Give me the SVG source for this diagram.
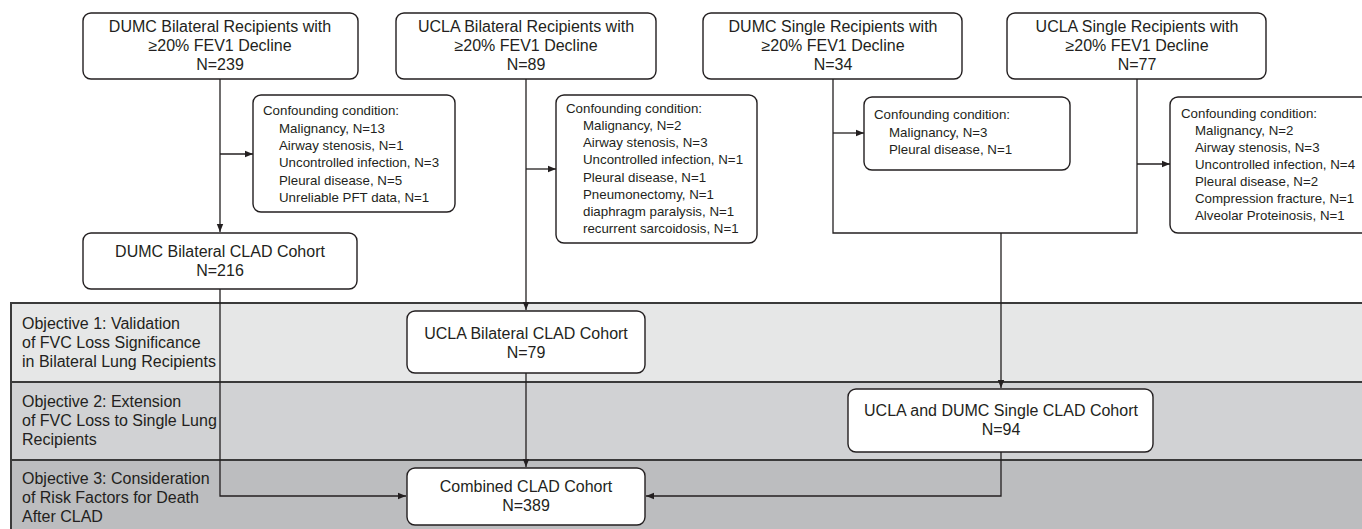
<svg xmlns="http://www.w3.org/2000/svg" width="1362" height="529" viewBox="0 0 1362 529">
<style>
.box{fill:#fff;stroke:#231f20;stroke-width:1.4}
.t{font-family:"Liberation Sans",Arial,sans-serif;font-size:16px;fill:#231f20;text-anchor:middle}
.c{font-family:"Liberation Sans",Arial,sans-serif;font-size:13.3px;fill:#231f20}
.o{font-family:"Liberation Sans",Arial,sans-serif;font-size:16px;fill:#231f20}
.ln{fill:none;stroke:#231f20;stroke-width:1.3}
.band{stroke:none}
.bl{stroke:#3a3a3a;stroke-width:2;fill:none}
</style>
<defs>
<marker id="ah" viewBox="0 0 10 10" refX="10" refY="5" markerWidth="8" markerHeight="8" markerUnits="userSpaceOnUse" orient="auto">
<path d="M0,1 L10,5 L0,9 Z" fill="#231f20"/>
</marker>
</defs>
<rect width="1362" height="529" fill="#fff"/>
<g id="bands">
<rect class="band" x="11" y="303" width="1351" height="79" fill="#e6e7e7"/>
<rect class="band" x="11" y="382" width="1351" height="78" fill="#d1d2d4"/>
<rect class="band" x="11" y="460" width="1351" height="69" fill="#bcbdbf"/>
<path class="bl" d="M1362,303 H11 V529 M11,382 H1362 M11,460 H1362"/>
<text class="o" x="22" y="329">Objective 1: Validation</text>
<text class="o" x="22" y="348">of FVC Loss Significance</text>
<text class="o" x="22" y="367">in Bilateral Lung Recipients</text>
<text class="o" x="22" y="407">Objective 2: Extension</text>
<text class="o" x="22" y="426">of FVC Loss to Single Lung</text>
<text class="o" x="22" y="445">Recipients</text>
<text class="o" x="22" y="484">Objective 3: Consideration</text>
<text class="o" x="22" y="503">of Risk Factors for Death</text>
<text class="o" x="22" y="522">After CLAD</text>
</g>
<g id="connectors">
<path class="ln" d="M220,79 V232" marker-end="url(#ah)"/>
<path class="ln" d="M220,154 H253" marker-end="url(#ah)"/>
<path class="ln" d="M526,79 V310" marker-end="url(#ah)"/>
<path class="ln" d="M526,169 H556" marker-end="url(#ah)"/>
<path class="ln" d="M833,133 H864" marker-end="url(#ah)"/>
<path class="ln" d="M1137,164 H1170" marker-end="url(#ah)"/>
<path class="ln" d="M833,79 V233 H1137 V79"/>
<path class="ln" d="M1001,233 V388" marker-end="url(#ah)"/>
<path class="ln" d="M220,289 V496 H406" marker-end="url(#ah)"/>
<path class="ln" d="M526,373 V467" marker-end="url(#ah)"/>
<path class="ln" d="M1001,452 V496 H646" marker-end="url(#ah)"/>
</g>
<g id="dumc-bilateral">
<rect class="box" x="83" y="13" width="275" height="66" rx="8"/>
<text class="t" x="220" y="32">DUMC Bilateral Recipients with</text>
<text class="t" x="220" y="51">≥20% FEV1 Decline</text>
<text class="t" x="220" y="70">N=239</text>
</g>
<g id="ucla-bilateral">
<rect class="box" x="396" y="13" width="260" height="66" rx="8"/>
<text class="t" x="526" y="32">UCLA Bilateral Recipients with</text>
<text class="t" x="526" y="51">≥20% FEV1 Decline</text>
<text class="t" x="526" y="70">N=89</text>
</g>
<g id="dumc-single">
<rect class="box" x="703" y="13" width="259" height="66" rx="8"/>
<text class="t" x="833" y="32">DUMC Single Recipients with</text>
<text class="t" x="833" y="51">≥20% FEV1 Decline</text>
<text class="t" x="833" y="70">N=34</text>
</g>
<g id="ucla-single">
<rect class="box" x="1007" y="13" width="259" height="66" rx="8"/>
<text class="t" x="1137" y="32">UCLA Single Recipients with</text>
<text class="t" x="1137" y="51">≥20% FEV1 Decline</text>
<text class="t" x="1137" y="70">N=77</text>
</g>
<g id="confound-1">
<rect class="box" x="253" y="95" width="202" height="117" rx="8"/>
<text class="c" x="263" y="115">Confounding condition:</text>
<text class="c" x="279" y="132.5">Malignancy, N=13</text>
<text class="c" x="279" y="150">Airway stenosis, N=1</text>
<text class="c" x="279" y="167">Uncontrolled infection, N=3</text>
<text class="c" x="279" y="184.5">Pleural disease, N=5</text>
<text class="c" x="279" y="202">Unreliable PFT data, N=1</text>
</g>
<g id="confound-2">
<rect class="box" x="556" y="95" width="201" height="148" rx="8"/>
<text class="c" x="566" y="113">Confounding condition:</text>
<text class="c" x="583" y="130">Malignancy, N=2</text>
<text class="c" x="583" y="147">Airway stenosis, N=3</text>
<text class="c" x="583" y="164">Uncontrolled infection, N=1</text>
<text class="c" x="583" y="181.5">Pleural disease, N=1</text>
<text class="c" x="583" y="199">Pneumonectomy, N=1</text>
<text class="c" x="583" y="216">diaphragm paralysis, N=1</text>
<text class="c" x="583" y="233">recurrent sarcoidosis, N=1</text>
</g>
<g id="confound-3">
<rect class="box" x="864" y="97" width="206" height="73" rx="8"/>
<text class="c" x="874" y="119">Confounding condition:</text>
<text class="c" x="889" y="136.5">Malignancy, N=3</text>
<text class="c" x="889" y="154">Pleural disease, N=1</text>
</g>
<g id="confound-4">
<rect class="box" x="1170" y="97" width="210" height="136" rx="8"/>
<text class="c" x="1181" y="118">Confounding condition:</text>
<text class="c" x="1195" y="135">Malignancy, N=2</text>
<text class="c" x="1195" y="152">Airway stenosis, N=3</text>
<text class="c" x="1195" y="169">Uncontrolled infection, N=4</text>
<text class="c" x="1195" y="186">Pleural disease, N=2</text>
<text class="c" x="1195" y="203">Compression fracture, N=1</text>
<text class="c" x="1195" y="220">Alveolar Proteinosis, N=1</text>
</g>
<g id="dumc-bilateral-clad">
<rect class="box" x="83" y="233" width="274" height="56" rx="8"/>
<text class="t" x="220" y="257">DUMC Bilateral CLAD Cohort</text>
<text class="t" x="220" y="276">N=216</text>
</g>
<g id="ucla-bilateral-clad">
<rect class="box" x="407" y="311" width="238" height="62" rx="8"/>
<text class="t" x="526" y="339">UCLA Bilateral CLAD Cohort</text>
<text class="t" x="526" y="358">N=79</text>
</g>
<g id="single-clad">
<rect class="box" x="848" y="389" width="305" height="63" rx="8"/>
<text class="t" x="1001" y="416">UCLA and DUMC Single CLAD Cohort</text>
<text class="t" x="1001" y="435">N=94</text>
</g>
<g id="combined-clad">
<rect class="box" x="407" y="468" width="238" height="57" rx="8"/>
<text class="t" x="526" y="492">Combined CLAD Cohort</text>
<text class="t" x="526" y="511">N=389</text>
</g>
</svg>
